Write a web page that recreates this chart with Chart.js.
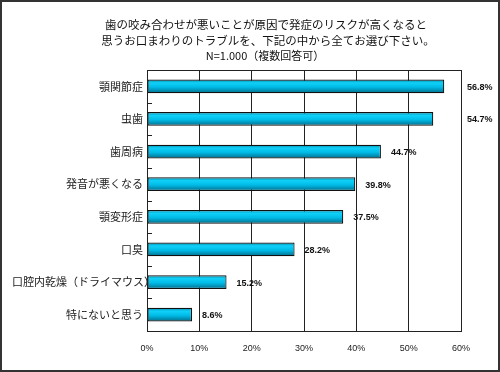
<!DOCTYPE html>
<html><head><meta charset="utf-8">
<script src="https://cdn.jsdelivr.net/npm/chart.js@4/dist/chart.umd.min.js"></script>
<style>html,body{margin:0;padding:0;background:#fff;}canvas{display:block;}</style>
</head><body>
<canvas id="c" width="500" height="372"></canvas>
<script>
const titleLines = ['歯の咬み合わせが悪いことが原因で発症のリスクが高くなると', '思うお口まわりのトラブルを、下記の中から全てお選び下さい。'];
const subTitle = 'N=1.000（複数回答可）';
const categories = ['顎関節症', '虫歯', '歯周病', '発音が悪くなる', '顎変形症', '口臭', '口腔内乾燥（ドライマウス）', '特にないと思う'];
const values = [56.8, 54.7, 44.7, 39.8, 37.5, 28.2, 15.2, 8.6];
const xTicks = [0, 10, 20, 30, 40, 50, 60];

const deco = {
  id: 'deco',
  beforeDraw(chart) {
    const ctx = chart.ctx;
    ctx.save();
    ctx.fillStyle = '#fff';
    ctx.fillRect(0, 0, chart.width, chart.height);
    ctx.restore();
  },
  afterDatasetsDraw(chart) {
    const ctx = chart.ctx, a = chart.chartArea;
    const ys = chart.scales.y;
    ctx.save();
    ctx.strokeStyle = '#222'; ctx.lineWidth = 1;
    ctx.strokeRect(Math.round(a.left) + 0.5, Math.round(a.top) + 0.5, Math.round(a.right - a.left), Math.round(a.bottom - a.top));
    for (let i = 1; i < categories.length; i++) {
      const y = Math.round((ys.getPixelForValue(i - 1) + ys.getPixelForValue(i)) / 2) + 0.5;
      ctx.beginPath(); ctx.moveTo(a.left, y); ctx.lineTo(a.left + 5, y); ctx.stroke();
    }
    // category labels (overflowing ones start at a left margin, like the original)
    ctx.font = '11px "Noto Sans CJK JP", sans-serif';
    ctx.fillStyle = '#222'; ctx.textBaseline = 'middle';
    const labelRight = a.left - 4, labelMinLeft = 12;
    categories.forEach((c, i) => {
      const y = ys.getPixelForValue(i);
      const w = ctx.measureText(c).width;
      if (labelRight - w < labelMinLeft) { ctx.textAlign = 'left'; ctx.fillText(c, labelMinLeft, y); }
      else { ctx.textAlign = 'right'; ctx.fillText(c, labelRight, y); }
    });
    // value labels
    ctx.font = 'bold 9px "Liberation Sans", Arial, sans-serif';
    ctx.fillStyle = '#111'; ctx.textAlign = 'left';
    const meta = chart.getDatasetMeta(0);
    meta.data.forEach((bar, i) => {
      const txt = values[i].toFixed(1) + '%';
      const w = ctx.measureText(txt).width;
      let x = bar.x + 10;
      if (x + w > a.right) x = a.right + 6;
      ctx.fillText(txt, x, bar.y + 1);
    });
    // title
    ctx.textAlign = 'center';
    ctx.font = '11.5px "Noto Sans CJK JP", sans-serif';
    ctx.fillStyle = '#111';
    ctx.fillText(titleLines[0], 266, 25);
    ctx.fillText(titleLines[1], 268, 41);
    ctx.font = '11px "Noto Sans CJK JP", sans-serif';
    ctx.fillText(subTitle, 265, 56);
    ctx.strokeStyle = '#333'; ctx.lineWidth = 2;
    ctx.strokeRect(1, 1, chart.width - 2, chart.height - 2);
    ctx.restore();
  }
};

function barGradient(context) {
  const chart = context.chart;
  const ys = chart.scales && chart.scales.y;
  if (!chart.chartArea || !ys || context.dataIndex === undefined) return '#00B8E8';
  const yc = ys.getPixelForValue(context.dataIndex);
  if (!isFinite(yc)) return '#00B8E8';
  const h = 14;
  const g = chart.ctx.createLinearGradient(0, yc - h / 2, 0, yc + h / 2);
  g.addColorStop(0, '#0088a8');
  g.addColorStop(0.25, '#10d0f8');
  g.addColorStop(0.55, '#00bce8');
  g.addColorStop(1, '#006a88');
  return g;
}

new Chart(document.getElementById('c'), {
  type: 'bar',
  data: {
    labels: categories,
    datasets: [{
      data: values,
      backgroundColor: barGradient,
      borderColor: '#111',
      borderWidth: 1.2,
      borderSkipped: false,
      categoryPercentage: 1,
      barPercentage: 0.42
    }]
  },
  options: {
    indexAxis: 'y',
    responsive: false,
    animation: false,
    devicePixelRatio: 1,
    layout: { padding: { left: 0, top: 70, right: 39, bottom: 0 } },
    plugins: { legend: { display: false }, tooltip: { enabled: false }, title: { display: false } },
    scales: {
      x: {
        min: 0, max: 60,
        afterFit(s) { s.height = 41; },
        afterBuildTicks(s) { s.ticks = xTicks.map(v => ({ value: v })); },
        grid: { color: '#222', lineWidth: 1, drawTicks: false },
        border: { display: false },
        ticks: {
          padding: 12,
          color: '#222',
          font: { size: 9, family: '"Liberation Sans", Arial, sans-serif' },
          callback: v => v + '%'
        }
      },
      y: {
        afterFit(s) { s.width = 147; },
        grid: { display: false, drawTicks: false },
        border: { display: false },
        ticks: { display: false }
      }
    }
  },
  plugins: [deco]
});
</script>
</body></html>
